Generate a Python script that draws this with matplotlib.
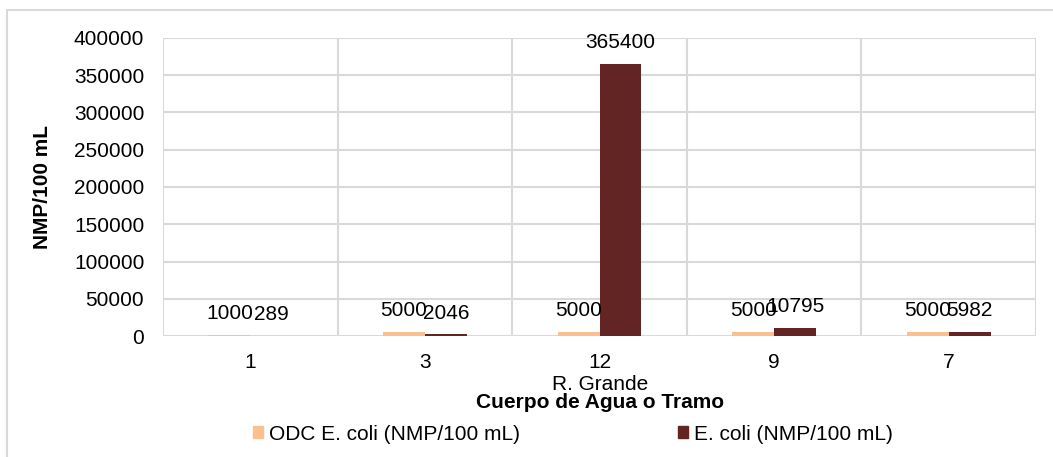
import numpy as np
import matplotlib
matplotlib.use("Agg")
import matplotlib.pyplot as plt
from matplotlib.patches import Rectangle, Patch

plt.rcParams['font.family'] = ['Liberation Sans', 'DejaVu Sans']

# Datos del gráfico
tramos = ['1', '3', '12', '9', '7']
odc_ecoli = [1000, 5000, 5000, 5000, 5000]          # ODC E. coli (NMP/100 mL)
ecoli = [289, 2046, 365400, 10795, 5982]            # E. coli (NMP/100 mL)
grupo = 'R. Grande'

c_odc = '#FAC090'
c_ecoli = '#632523'
c_grid = '#D9D9D9'
fs = 15

W, H = 1053, 457
fig = plt.figure(figsize=(W / 100, H / 100), dpi=100)

# marco exterior del gráfico
fig.patches.append(Rectangle((7 / W, -0.1), 1.2, 1 - 10 / H + 0.1,
                             transform=fig.transFigure, fill=False,
                             edgecolor=c_grid, lw=1.5))

ax = fig.add_axes([163 / W, 1 - 336 / H, (1036 - 163) / W, (336 - 38) / H])

x = np.arange(len(tramos))
w = 0.24
b1 = ax.bar(x - w / 2, odc_ecoli, w, color=c_odc, zorder=3)
b2 = ax.bar(x + w / 2, ecoli, w, color=c_ecoli, zorder=3)
ax.bar_label(b1, padding=8.5, fontsize=fs)
ax.bar_label(b2, padding=8.5, fontsize=fs)

ax.set_xlim(-0.5, len(tramos) - 0.5)
ax.set_ylim(0, 400000)
ax.set_yticks(np.arange(0, 400001, 50000))
ax.set_xticks(x)
ax.set_xticklabels(tramos)
ax.set_xticks(np.arange(-0.5, len(tramos), 1), minor=True)
ax.tick_params(axis='both', which='both', length=0, labelsize=fs)
ax.tick_params(axis='y', pad=13.5)
ax.tick_params(axis='x', pad=12.5)
ax.grid(True, axis='y', color=c_grid, lw=1.5, zorder=0)
ax.grid(True, axis='x', which='minor', color=c_grid, lw=1.5, zorder=0)
for s in ax.spines.values():
    s.set_visible(False)

ax.set_ylabel('NMP/100 mL', fontsize=fs, fontweight='bold')
ax.yaxis.set_label_coords((52 - 163) / (1036 - 163), 0.5)

fig.text(600 / W, 1 - 385 / H, grupo, fontsize=fs, ha='center', va='center')
fig.text(600 / W, 1 - 403 / H, 'Cuerpo de Agua o Tramo', fontsize=fs,
         fontweight='bold', ha='center', va='center')

handles = [Patch(color=c_odc), Patch(color=c_ecoli)]
fig.legend(handles, ['ODC E. coli (NMP/100 mL)', 'E. coli (NMP/100 mL)'],
           loc='center', bbox_to_anchor=(573 / W, 1 - 434 / H), ncol=2,
           frameon=False, fontsize=fs, handlelength=0.45, handleheight=0.45,
           handletextpad=0.3, columnspacing=7.6, borderpad=0)

fig.savefig('out.png', dpi=100)
